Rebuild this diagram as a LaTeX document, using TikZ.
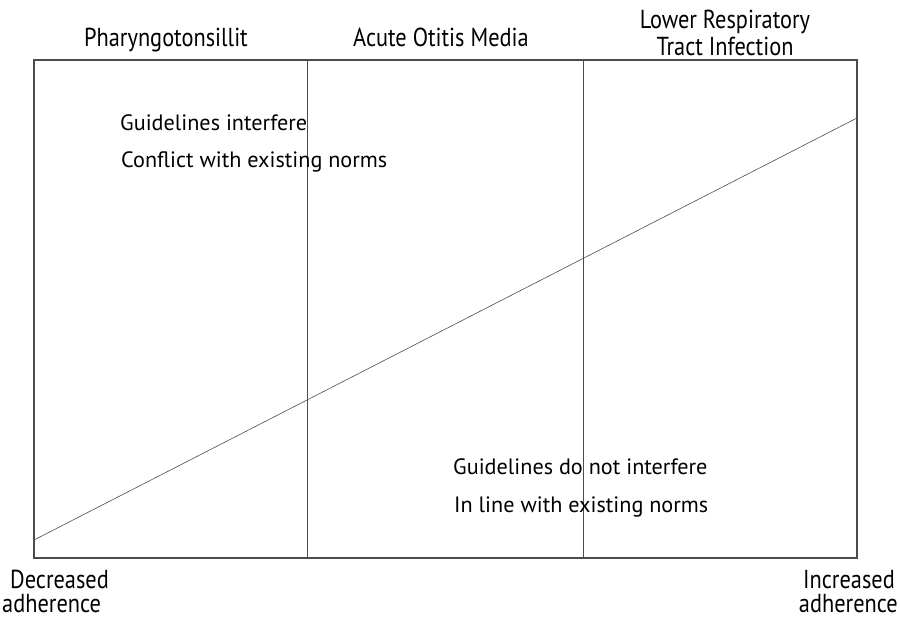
\documentclass[tikz,border=0pt]{standalone}
\usepackage{fontspec}
\setmainfont{PT Sans}
\newfontfamily\condfont[FakeStretch=0.86]{PT Sans}
\begin{document}
\begin{tikzpicture}[x=1pt,y=-1pt,
  frame/.style={draw=black!70,line width=1.2pt},
  diag/.style={draw=black!70,line width=0.6pt},
  body/.style={inner sep=0pt,font=\fontsize{22.2}{26}\selectfont},
  head/.style={inner sep=0pt,font=\condfont\fontsize{26}{30}\selectfont},
  side/.style={inner sep=0pt,font=\condfont\fontsize{26}{30}\selectfont}]
\useasboundingbox (0,0) rectangle (900,619);
\coordinate (tl) at (34,60);
\coordinate (tr) at (857,60);
\coordinate (bl) at (34,558);
\coordinate (br) at (857,558);
\coordinate (v1t) at (307,60);
\coordinate (v1b) at (307,558);
\coordinate (v2t) at (583,60);
\coordinate (v2b) at (583,558);
\coordinate (d1) at (34,540);
\coordinate (d2) at (857,118);
\draw[frame] (tl) -- (tr) -- (br) -- (bl) -- cycle;
\draw[frame,line width=0.9pt] (v1t) -- (v1b);
\draw[frame,line width=0.9pt] (v2t) -- (v2b);
\draw[diag] (d1) -- (d2);
\node[head,anchor=base] (h1) at (166,46) {Pharyngotonsillit};
\node[head,anchor=base] (h2) at (441,46) {Acute Otitis Media};
\node[head,anchor=base] (h3a) at (725,28) {Lower Respiratory};
\node[head,anchor=base] (h3b) at (725,55) {Tract Infection};
\node[body,anchor=base west] (t1) at (120,130) {Guidelines interfere};
\node[body,anchor=base west] (t2) at (121,167) {Conflict with existing norms};
\node[body,anchor=base west] (t3) at (453,474) {Guidelines do not interfere};
\node[body,anchor=base west] (t4) at (454,512) {In line with existing norms};
\node[side,anchor=base west] (l1) at (10,588) {Decreased};
\node[side,anchor=base west] (l2) at (2,612) {adherence};
\node[side,anchor=base east] (r1) at (895,588) {Increased};
\node[side,anchor=base east] (r2) at (898,612) {adherence};
\end{tikzpicture}
\end{document}
